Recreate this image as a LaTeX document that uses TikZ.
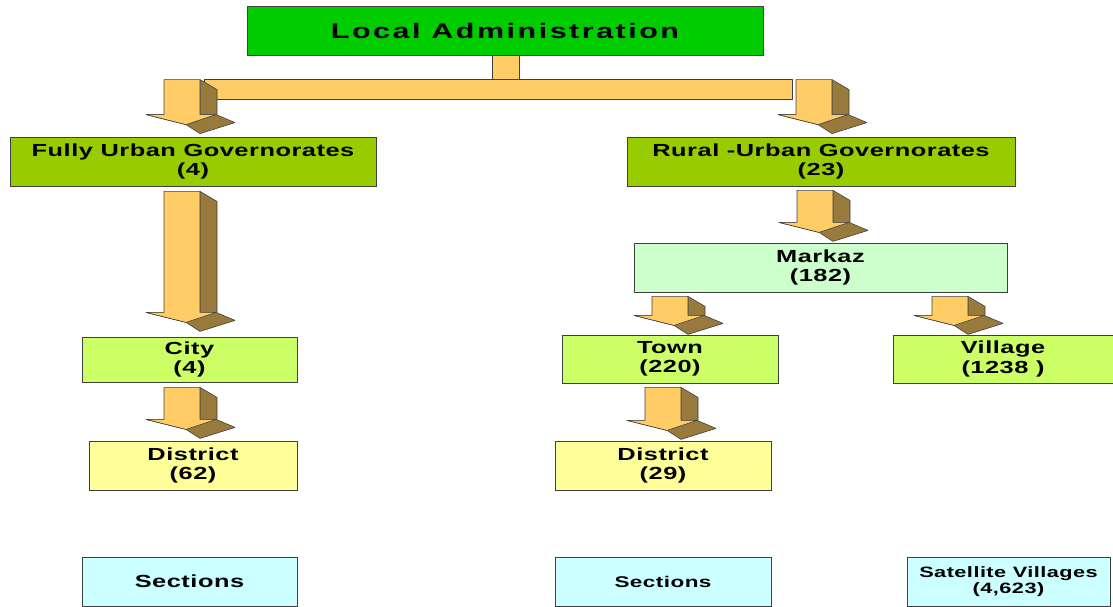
\documentclass[tikz,border=0pt]{standalone}
\usepackage{fontspec}
\setmainfont{Liberation Sans}
\newfontfamily\boxfont{Liberation Sans}[FakeStretch=1.45,LetterSpace=3]
\newfontfamily\titlefont{Liberation Sans}[FakeStretch=1.45,LetterSpace=12]
\usetikzlibrary{calc}
\definecolor{titlegreen}{RGB}{0,204,0}
\definecolor{govgreen}{RGB}{153,204,0}
\definecolor{citygreen}{RGB}{204,255,102}
\definecolor{distyellow}{RGB}{255,255,153}
\definecolor{markazgreen}{RGB}{204,255,204}
\definecolor{seccyan}{RGB}{204,255,255}
\definecolor{arrowlight}{RGB}{255,204,102}
\definecolor{arrowdark}{RGB}{153,122,61}
\definecolor{boxedge}{RGB}{64,64,64}
% 3d block arrow: #1 = top of shaft, #2 = shaft length
\newcommand\boxarrow[2]{%
  \begin{scope}[shift={#1}]
  \filldraw[arrowedge,fill=arrowdark] (18,0) -- (35,10) -- (35,#2) -- (18,#2) -- cycle;
  \filldraw[arrowedge,fill=arrowdark] (-36,#2) -- (4,{#2+10}) -- (18,{#2+19}) -- (53,{#2+8}) -- (34,#2) -- cycle;
  \filldraw[arrowedge,fill=arrowlight] (-18,0) -- (18,0) -- (18,#2) -- (34,#2) -- (4,{#2+10}) -- (-36,#2) -- (-18,#2) -- cycle;
  \end{scope}}
\begin{document}
\begin{tikzpicture}[x=1pt,y=-1pt,
  arrowedge/.style={draw=boxedge,line width=0.6pt,line join=round},
  unit/.style={draw=boxedge,line width=0.8pt,minimum height=49pt,inner sep=0pt,align=center,
    font=\boxfont\bfseries\fontsize{17.5}{19.5}\selectfont}]
\useasboundingbox (0,0) rectangle (1113,607);
\node[unit,fill=titlegreen,minimum width=516pt,font=\titlefont\bfseries\fontsize{21}{23}\selectfont]
  (la) at (505,30.5) {Local Administration};
\node[unit,fill=govgreen,minimum width=366pt] (fug) at (193,161.5) {Fully Urban Governorates\\(4)};
\node[unit,fill=govgreen,minimum width=388pt] (rug) at (821,161.5) {Rural -Urban Governorates\\(23)};
\node[unit,fill=markazgreen,minimum width=373pt] (markaz) at (820.5,267.5) {Markaz\\(182)};
\node[unit,fill=citygreen,minimum width=215pt,minimum height=45pt] (city) at (189.5,359.5) {City\\(4)};
\node[unit,fill=citygreen,minimum width=216pt,minimum height=48pt] (town) at (670,359) {Town\\(220)};
\node[unit,fill=citygreen,minimum width=220pt,minimum height=48pt] (village) at (1003,359) {Village\\(1238 )};
\node[unit,fill=distyellow,minimum width=208pt] (dista) at (193,465.5) {District\\(62)};
\node[unit,fill=distyellow,minimum width=216pt] (distb) at (663,465.5) {District\\(29)};
\node[unit,fill=seccyan,minimum width=215pt] (seca) at (189.5,581.5) {Sections};
\node[unit,fill=seccyan,minimum width=216pt,font=\boxfont\bfseries\fontsize{15.5}{17}\selectfont]
  (secb) at (663,581.5) {Sections};
\node[unit,fill=seccyan,minimum width=203pt,font=\boxfont\bfseries\fontsize{15}{16}\selectfont]
  (sat) at (1008.5,581.5) {Satellite Villages\\(4,623)};
% stem and bar under the title
\filldraw[arrowedge,fill=arrowlight] ($(la.south)+(-13,0)$) rectangle ($(la.south)+(14,25)$);
\filldraw[arrowedge,fill=arrowlight] ($(fug.north)+(11,-57)$) rectangle ($(rug.north)+(-29,-37)$);
% block arrows
\boxarrow{($(fug.north)+(-11,-57)$)}{35}
\boxarrow{($(rug.north)+(-7,-57)$)}{35}
\boxarrow{($(fug.south)+(-11,5)$)}{121}
\boxarrow{($(city.south)+(-7.5,5)$)}{32}
\boxarrow{($(rug.south)+(-6,4)$)}{32}
\boxarrow{($(markaz.south)+(-150.5,4)$)}{19}
\boxarrow{($(markaz.south)+(129.5,4)$)}{19}
\boxarrow{($(town.south)+(-7,4)$)}{33}
\end{tikzpicture}
\end{document}
